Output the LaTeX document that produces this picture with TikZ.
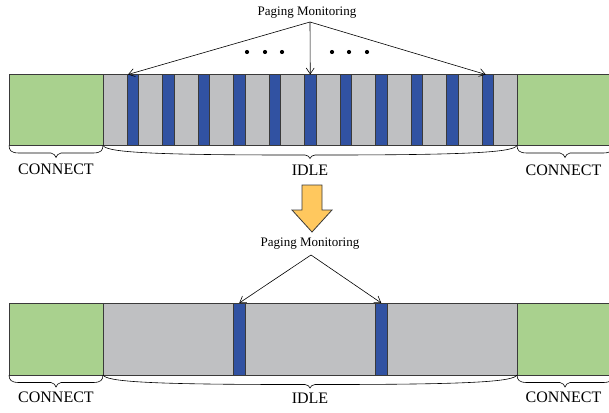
\documentclass[tikz,border=0pt]{standalone}
\usepackage{fontspec}
\setmainfont{Liberation Serif}
\usetikzlibrary{arrows.meta,calc}
\definecolor{conngreen}{HTML}{A9D18E}
\definecolor{idlegray}{HTML}{BFC0C2}
\definecolor{pagblue}{HTML}{3152A2}
\definecolor{edgegray}{HTML}{3A3A3A}
\definecolor{turnorange}{HTML}{FFC85E}
% Curly brace hanging below the segment #1--#2:
% #3 = horizontal reach of the end curves, #4 = depth of the flat part, #5 = depth of the tip
\newcommand\spanbrace[5]{%
  \draw[bracepen] let \p1=(#1), \p2=(#2), \n1={(\x1+\x2)/2} in
    (\x1,\y1)
    .. controls (\x1+0.02*#3pt, \y1-0.65*#4pt) and (\x1+0.2*#3pt, \y1-#4pt) .. (\x1+#3pt, \y1-#4pt)
    -- (\n1-5pt, \y1-#4pt)
    .. controls (\n1-2pt, \y1-#4pt) and (\n1-0.8pt, \y1-#5pt+1.5pt) .. (\n1, \y1-#5pt)
    .. controls (\n1+0.8pt, \y1-#5pt+1.5pt) and (\n1+2pt, \y1-#4pt) .. (\n1+5pt, \y1-#4pt)
    -- (\x2-#3pt, \y1-#4pt)
    .. controls (\x2-0.2*#3pt, \y1-#4pt) and (\x2-0.02*#3pt, \y1-0.65*#4pt) .. (\x2, \y2);
}
\begin{document}
\begin{tikzpicture}[x=1pt,y=-1pt,
  box/.style={draw=edgegray, line width=0.8pt, inner sep=0pt, outer sep=0pt,
    anchor=north west, rectangle},
  connbox/.style={box, fill=conngreen, minimum width=94pt, minimum height=71pt},
  idlebox/.style={box, fill=idlegray, minimum width=414pt, minimum height=71pt},
  pagebar/.style={box, fill=pagblue, minimum width=11.5pt, minimum height=71pt},
  lbl/.style={font=\fontsize{16}{18}\selectfont, inner sep=0pt},
  pmlbl/.style={font=\fontsize{13}{15}\selectfont, inner sep=0pt},
  pmarrow/.style={draw=black, line width=0.6pt, -{Straight Barb[length=6pt,width=8pt]}},
  bracepen/.style={draw=black, line width=0.6pt},
  dot/.style={circle, fill=black, inner sep=0pt, minimum size=4.2pt}
]
\useasboundingbox (0,0) rectangle (609,412);

% ---------- upper timeline: frequent paging occasions ----------
\node[connbox] (c1) at (9,74.5) {};
\node[idlebox] (i1) at (103,74.5) {};
\node[connbox, minimum width=96pt] (c2) at (517,74.5) {};
\foreach \k in {1,...,11}
  \node[pagebar] (b\k) at ({127+35.5*(\k-1)},74.5) {};

\node[pmlbl] (pm1) at (307,13) {Paging Monitoring};
\coordinate (a1) at (310,22);
\draw[pmarrow] (a1) -- ($(b1.north west)+(1,0)$);
\draw[pmarrow] (a1) -- (b6.north);
\draw[pmarrow] (a1) -- ($(b11.north)+(-2,0)$);

\foreach \x [count=\n] in {247,265,282,332,349,367}
  \node[dot] (d\n) at (\x,52) {};

\spanbrace{c1.south west}{c1.south east}{10}{7.5}{12}
\spanbrace{i1.south west}{i1.south east}{190}{9.5}{13}
\coordinate (c2end) at ($(c2.south west)+(96,0)$);
\spanbrace{c2.south west}{c2end}{10}{7.5}{12}
\node[lbl] (t1) at (56,169) {CONNECT};
\node[lbl] (t2) at (310,170.5) {IDLE};
\node[lbl] (t3) at (563.5,170) {CONNECT};

% ---------- transition arrow ----------
\draw[draw=edgegray, line width=0.8pt, fill=turnorange, line join=miter]
  (302,185) -- (322,185) -- (322,210) -- (332,210) -- (312,232)
  -- (292,210) -- (302,210) -- cycle;

% ---------- lower timeline: sparse paging occasions ----------
\node[connbox, minimum height=72pt] (c3) at (9,303) {};
\node[idlebox, minimum height=72pt] (i2) at (103,303) {};
\node[connbox, minimum height=72pt, minimum width=96pt] (c4) at (517,303) {};
\node[pagebar, minimum height=72pt, minimum width=12.5pt] (b12) at (233,303) {};
\node[pagebar, minimum height=72pt, minimum width=12.5pt] (b13) at (375,303) {};
\node[pmlbl] (pm2) at (310,244) {Paging Monitoring};
\coordinate (a2) at (311,255);
\draw[pmarrow] (a2) -- (b12.north);
\draw[pmarrow] (a2) -- (b13.north);

\spanbrace{c3.south west}{c3.south east}{10}{7.5}{12}
\spanbrace{i2.south west}{i2.south east}{190}{9.5}{13}
\coordinate (c4end) at ($(c4.south west)+(96,0)$);
\spanbrace{c4.south west}{c4end}{10}{7.5}{12}
\node[lbl] (t4) at (56,397.5) {CONNECT};
\node[lbl] (t5) at (310,398) {IDLE};
\node[lbl] (t6) at (563.5,397.5) {CONNECT};
\end{tikzpicture}
\end{document}
